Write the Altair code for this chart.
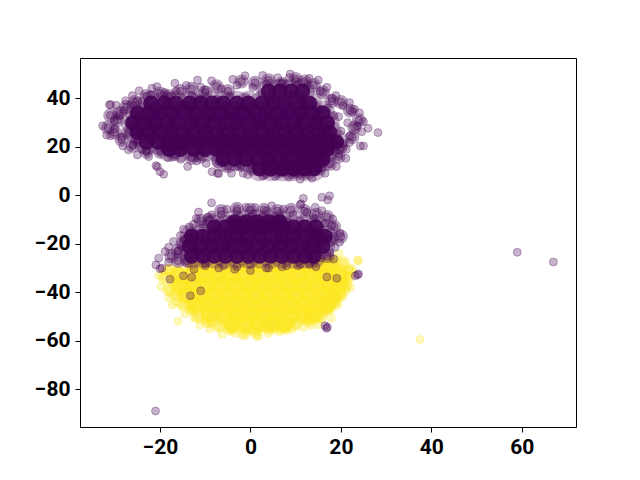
import altair as alt
import pandas as pd

PURPLE = "#440154"
YELLOW = "#fde725"

# Estimated positions of the scattered, individually visible points
purple_x = [8.8, 8.6, -1.2, 2.7, 6.0, -11.7, -8.6, -3.9, -16.7, -14.2, -11.0, -20.7, -21.8, -24.6, -26.1, -27.6, -31.2, -30.9, -29.7,
            -32.7, -31.8, -31.0, -30.1, -28.2, -27.0, -25.0, -22.5, -20.9, -20.6, -20.0, -19.2, -18.2, -15.4, -13.9, -11.9, -9.8, -8.5, -7.3, -7.0,
            -4.2, -1.6, -0.6, 2.7, 5.5, 8.4, 11.0, 13.6, 16.5, 19.0, 21.1, 21.2, 24.3, 25.0, 21.9, 28.2, 26.0, 24.6, 25.0, 24.1, 21.9, 18.9, 16.9, 15.0, 13.0,
            -28.0, -26.5, -25.0, -22.0, -19.0, -16.5, -13.0, -10.0, -6.5, -3.0, 0.5, 3.5, 7.0, 10.0, 12.5, 15.5, 18.0, 20.5, 22.5,
            -29.0, -25.5, -22.5, -18.5, -14.5, -11.5, -7.5, -4.5, -1.0, 2.5, 5.0, 9.0, 11.5, 14.0, 17.0, 19.5, 23.0,
            -30.0, -27.0, -23.5, -20.5, -17.0, -13.5, -9.5, -5.5, -2.0, 1.0, 4.5, 8.0, 12.0, 15.0, 18.5, 21.5, 23.5,
            -28.5, -24.5, -21.5, -17.5, -12.5, -8.5, -4.0, 0.0, 4.0, 7.5, 11.0, 14.5, 17.5, 20.0, 22.0,
            -26.0, -22.0, -18.0, -14.0, -10.0, -6.0, -2.5, 2.0, 6.0, 10.5, 13.5, 16.0, 18.5, 20.5,
            -23.0, -19.0, -15.5, -11.0, -6.5, -3.5, 0.5, 4.5, 8.5, 12.5, 15.5, 17.5, 19.5,
            -3.0, 0.0, 3.5, 7.0, 10.0, 13.0, 16.0, 4.0, 7.5, 11.5, 14.5, 2.0, 6.5, 9.5, 12.5,
            5.0, 7.5, 10.0, 12.5, 15.0, 4.0, 9.0, 13.0, 16.0, -6.5, -2.5, 1.5, 8.0, 11.5, -15.0, -19.0, -24.0,
            # lower group
            -8.6, -11.5, 11.7, 11.0, 11.2, 15.8, 17.5, 17.1, 14.3, 15.8, 7.3, 4.7, -1.0, 1.0, -5.2, -8.6, -12.6, -14.8, -15.5, -17.0, -18.1, -18.9, -20.3,
            -20.9, -20.0, -19.6, -18.1, -17.8, 19.8, 18.2, 19.7, 18.7, 17.6, 18.4, 15.4, 23.7, 23.9, 23.2, 16.9, 19.1, 16.5, 16.8, 17.0, -13.3, -11.0, -14.8, -13.0,
            -12.0, -9.5, -6.5, -3.0, 0.5, 3.5, 6.5, 9.5, 12.5, -13.5, -10.5, -7.0, -4.5, -1.5, 2.0, 5.0, 8.0, 11.0, 14.0, 16.5, 18.0,
            -14.5, -11.0, -8.0, -5.0, -2.0, 1.5, 4.5, 7.5, 10.5, 13.5, 16.0, -16.0, -12.5, -9.0, -5.5, -1.0, 3.0, 6.5, 9.0, 12.0, 15.0,
            -10.0, -6.0, -3.5, 0.0, 3.5, 7.0, 10.5, 13.0, 14.5,
            14.0, 11.0, 8.0, 4.0, 0.0, -3.0, -7.0, -10.0, -12.5,
            # far outliers
            59.0, 67.0, -21.0]
purple_y = [50.1, 48.6, 49.4, 49.5, 48.6, 47.6, 47.3, 47.9, 46.3, 45.4, 44.6, 44.9, 44.2, 43.2, 41.2, 39.1, 37.4, 37.5, 37.2,
            28.7, 24.9, 24.6, 30.7, 20.4, 18.8, 16.7, 16.0, 12.3, 11.8, 9.8, 8.7, 15.6, 14.9, 11.9, 14.2, 13.2, 9.8, 9.1, 9.0,
            9.1, 9.1, 8.5, 8.0, 7.8, 7.5, 6.7, 7.1, 9.1, 11.9, 15.3, 19.0, 20.4, 20.4, 21.8, 25.9, 27.7, 26.3, 30.4, 34.1, 38.3, 41.2, 44.6, 47.6, 48.3,
            35.0, 37.5, 39.0, 41.5, 42.5, 43.0, 41.0, 43.5, 44.0, 45.5, 44.5, 46.0, 46.5, 47.0, 45.0, 43.0, 40.0, 37.0, 34.5,
            33.0, 34.0, 36.5, 38.0, 37.5, 40.0, 39.5, 41.0, 40.5, 42.5, 43.0, 41.5, 39.5, 38.5, 36.0, 32.5, 35.5,
            27.5, 30.0, 31.5, 34.0, 33.0, 35.5, 36.0, 37.0, 36.0, 38.0, 37.5, 38.5, 36.5, 35.5, 33.0, 30.0, 28.5,
            24.0, 26.0, 28.0, 29.5, 31.0, 32.0, 32.5, 33.5, 33.0, 34.0, 32.0, 31.5, 29.0, 26.5, 24.5,
            21.0, 22.5, 25.0, 26.5, 27.5, 28.5, 29.0, 29.5, 29.0, 28.0, 27.5, 25.5, 23.0, 21.5,
            18.5, 19.5, 21.0, 22.5, 23.5, 24.5, 25.0, 25.5, 25.0, 24.0, 22.5, 19.5, 17.0,
            12.0, 14.0, 12.5, 11.5, 11.0, 12.5, 13.0, 16.0, 15.0, 16.0, 16.5, 19.5, 19.0, 20.0, 19.5,
            10.5, 9.5, 9.0, 10.0, 11.0, 21.5, 22.0, 21.5, 15.0, 17.0, 16.0, 21.0, 13.5, 13.0, 18.5, 19.5, 19.0,
            # lower group
            -3.1, -6.9, -1.2, -3.9, -3.5, -0.8, -0.2, -1.9, -4.9, -6.3, -5.7, -4.3, -4.9, -5.0, -5.7, -8.0, -11.9, -14.0, -16.6, -19.0, -21.4, -23.2, -25.9,
            -28.7, -30.3, -30.0, -27.6, -34.6, -15.6, -9.8, -19.3, -21.4, -23.6, -26.3, -25.9, -32.8, -32.4, -33.2, -33.7, -34.2, -53.8, -54.8, -54.4, -41.4, -39.4, -33.2, -33.8,
            -9.5, -9.0, -8.0, -6.5, -7.5, -6.5, -8.5, -8.0, -7.0, -13.0, -12.0, -11.5, -10.0, -11.0, -10.5, -10.0, -11.0, -10.5, -9.5, -11.5, -12.5,
            -18.0, -15.5, -14.5, -16.0, -14.0, -15.0, -13.5, -15.5, -14.5, -15.0, -17.0, -23.0, -22.5, -20.0, -21.5, -19.5, -20.0, -18.5, -19.0, -21.0, -22.0,
            -28.0, -29.0, -30.5, -28.5, -30.0, -29.5, -29.0, -28.5, -29.5,
            -27.5, -28.5, -29.0, -30.0, -31.0, -29.5, -30.0, -29.0, -30.5,
            # far outliers
            -23.5, -27.5, -89.0]

# Estimated points of the crowded rim around each group
rim_purple_x = [-29.0, -27.5, -25.5, -23.0, -20.0, -18.0, -15.5, -13.0, -10.0, -7.5, -5.0, -2.0, 1.0, 4.0, 7.0, 10.0, 12.0, 14.0, 16.0, 18.0, 20.0, 22.0, 24.0, 23.0, 22.5,
                20.0, 19.5, 17.5, 15.0, 12.0, 9.5, 6.5, 3.5, 0.5, -2.0, -5.0, -7.0, -11.0, -13.0, -17.0, -20.0, -23.0, -26.0, -28.5, -30.0, -31.5, -31.0, -29.5, -27.0, -25.0,
                -16.0, -17.5, -16.0, -14.0, -15.0, -13.0, -11.0, -9.0, -6.5, -3.0, 0.0, 3.0, 6.0, 9.0, 12.0, 14.5, 17.0, 18.5, 20.0, 18.0, 17.0]
rim_purple_y = [34.0, 36.5, 38.5, 41.0, 42.0, 41.0, 43.0, 44.0, 42.5, 45.0, 43.0, 47.0, 46.5, 47.5, 46.0, 48.0, 47.0, 45.5, 42.5, 39.0, 38.5, 35.0, 31.0, 28.0, 24.0,
                20.0, 16.0, 13.0, 11.0, 9.5, 9.5, 10.0, 10.0, 11.0, 12.5, 12.0, 14.0, 16.0, 15.5, 17.0, 18.0, 18.0, 20.5, 23.0, 26.0, 28.0, 33.0, 31.0, 26.0, 23.0,
                -23.0, -25.0, -27.0, -27.0, -20.0, -16.0, -10.5, -10.0, -6.5, -5.5, -6.0, -6.0, -6.5, -6.0, -6.5, -8.0, -9.0, -13.0, -17.0, -18.0, -25.0]

yellow_x = [-20.3, -19.8, -18.1, -17.3, -14.5, -11.2, -9.0, -6.3, -3.4, 1.4, 1.8, 6.4, 9.3, 11.7, 13.3, 15.0, 17.9, 19.4, 21.2, 22.2, 20.1, 23.9, 23.7, 19.6,
            -16.0, -12.5, -8.5, -4.0, 0.5, 5.0, 9.0, 13.0, 16.5, 21.5, 18.5, 20.5, 22.0, 17.0, -19.0, -17.5, -15.5, -16.5, 4.0, -1.0, 8.0, 11.5, 3.0, -6.5, -13.0,
            37.5]
yellow_y = [-33.0, -37.6, -42.4, -45.2, -48.9, -53.4, -55.0, -57.3, -56.8, -58.2, -58.0, -56.2, -55.2, -54.4, -53.7, -53.4, -50.7, -45.2, -39.4, -38.0, -30.3, -27.0, -26.8, -24.1,
            -52.0, -50.5, -53.0, -54.5, -55.5, -54.0, -52.5, -50.0, -47.5, -33.5, -42.0, -36.0, -31.0, -29.0, -31.0, -36.0, -40.0, -44.0, -57.0, -56.0, -55.5, -51.5, -53.0, -52.0, -46.5,
            -59.5]
rim_yellow_x = [-18.0, -19.0, -18.0, -16.5, -15.0, -13.0, -11.5, -9.5, -7.0, -4.5, -1.5, 1.0, 4.0, 7.0, 10.0, 13.0, 15.5, 17.0, 18.5, 20.0, 21.0, 21.5, 22.0, 20.5, 18.5]
rim_yellow_y = [-31.0, -34.0, -39.0, -41.0, -45.0, -47.0, -50.0, -52.0, -54.0, -55.0, -57.0, -56.0, -54.5, -54.0, -53.0, -51.5, -50.0, -47.0, -44.0, -41.0, -37.0, -34.0, -31.0, -28.0, -27.0]

# Estimated centres of the areas where points pile up into solid colour
dense_purple_x = [4.0, 6.5, 9.0, 11.5,
                  -22.0, -19.0, -16.5, -13.5, -11.0, -8.5, -6.0, -3.0, -0.5, 2.5, 5.0, 7.5, 10.5, 13.0,
                  -25.0, -22.5, -20.0, -17.0, -14.5, -12.0, -9.0, -6.5, -4.0, -1.5, 1.0, 3.5, 6.0, 8.5, 11.0, 13.5, 16.0,
                  -26.0, -23.5, -21.0, -18.5, -16.0, -13.0, -10.5, -8.0, -5.5, -3.0, -0.5, 2.0, 4.5, 7.0, 9.5, 12.0, 14.5, 17.0,
                  -25.0, -22.5, -20.0, -17.5, -15.0, -12.5, -10.0, -7.5, -5.0, -2.5, 0.0, 2.5, 5.0, 7.5, 10.0, 12.5, 15.0, 17.5,
                  -23.0, -20.5, -18.0, -15.5, -13.0, -10.5, -8.0, -5.5, -3.0, -0.5, 2.0, 4.5, 7.0, 9.5, 12.0, 14.5, 17.0, 19.0,
                  -18.0, -15.5, -12.5, -10.0, -7.5, -5.0, -2.5, 0.0, 2.5, 5.0, 7.5, 10.0, 12.5, 15.0, 17.0,
                  -6.0, -3.5, -1.0, 1.5, 4.0, 6.5, 9.0, 11.5, 14.0, 16.0,
                  2.0, 4.5, 7.0, 9.5, 12.0, 14.0,
                  # lower group
                  -3.5, -1.0, 1.5, 4.0, 6.5,
                  -8.0, -5.5, -3.0, -0.5, 2.0, 4.5, 7.0, 9.5, 12.0, 14.5,
                  -13.0, -10.5, -8.0, -5.5, -3.0, -0.5, 2.0, 4.5, 7.0, 9.5, 12.0, 14.5, 16.5,
                  -13.5, -11.0, -8.5, -6.0, -3.5, -1.0, 1.5, 4.0, 6.5, 9.0, 11.5, 14.0, 16.0,
                  -13.0, -10.5, -8.0, -5.5, -3.0, -0.5, 2.0, 4.5, 7.0, 9.5, 12.0, 14.0]
dense_purple_y = [43, 43, 43, 43,
                  38, 38, 38, 38, 38, 38, 38, 38, 38, 38, 38, 38, 38, 38,
                  34, 34, 34, 34, 34, 34, 34, 34, 34, 34, 34, 34, 34, 34, 34, 34, 34,
                  30, 30, 30, 30, 30, 30, 30, 30, 30, 30, 30, 30, 30, 30, 30, 30, 30, 30,
                  26, 26, 26, 26, 26, 26, 26, 26, 26, 26, 26, 26, 26, 26, 26, 26, 26, 26,
                  22, 22, 22, 22, 22, 22, 22, 22, 22, 22, 22, 22, 22, 22, 22, 22, 22, 22,
                  19, 19, 19, 19, 19, 19, 19, 19, 19, 19, 19, 19, 19, 19, 19,
                  15, 15, 15, 15, 15, 15, 15, 15, 15, 15,
                  11, 11, 11, 11, 11, 11,
                  # lower group
                  -11, -11, -11, -11, -11,
                  -13, -13, -13, -13, -13, -13, -13, -13, -13, -13,
                  -17, -17, -17, -17, -17, -17, -17, -17, -17, -17, -17, -17, -17,
                  -21, -21, -21, -21, -21, -21, -21, -21, -21, -21, -21, -21, -21,
                  -25, -25, -25, -25, -25, -25, -25, -25, -25, -25, -25, -25]

dense_yellow_x = [-12.0, -9.0, -6.0, -3.0, 0.0, 3.0, 6.0, 9.0, 12.0, 15.0, 17.5,
                  -16.0, -13.0, -10.0, -7.0, -4.0, -1.0, 2.0, 5.0, 8.0, 11.0, 14.0, 17.0, 19.5,
                  -15.5, -12.5, -9.5, -6.5, -3.5, -0.5, 2.5, 5.5, 8.5, 11.5, 14.5, 17.5, 19.5,
                  -14.0, -11.0, -8.0, -5.0, -2.0, 1.0, 4.0, 7.0, 10.0, 13.0, 16.0, 18.5,
                  -12.0, -9.0, -6.0, -3.0, 0.0, 3.0, 6.0, 9.0, 12.0, 15.0, 17.0,
                  -9.0, -6.0, -3.0, 0.0, 3.0, 6.0, 9.0, 12.0, 14.0,
                  -4.0, -1.0, 2.0, 5.0, 7.5]
dense_yellow_y = [-29, -29, -29, -29, -29, -29, -29, -29, -29, -29, -29,
                  -33, -33, -33, -33, -33, -33, -33, -33, -33, -33, -33, -33, -33,
                  -37, -37, -37, -37, -37, -37, -37, -37, -37, -37, -37, -37, -37,
                  -41, -41, -41, -41, -41, -41, -41, -41, -41, -41, -41, -41,
                  -45, -45, -45, -45, -45, -45, -45, -45, -45, -45, -45,
                  -49, -49, -49, -49, -49, -49, -49, -49, -49,
                  -53, -53, -53, -53, -53]

x_ticks = [-20, 0, 20, 40, 60]
y_ticks = [-80, -60, -40, -20, 0, 20, 40]
minus_expr = "replace(datum.label, /[-\u2212]/, '\u2212')"

x_scale = alt.Scale(domain=[-37.7, 72.0], nice=False, zero=False)
y_scale = alt.Scale(domain=[-95.6, 56.7], nice=False, zero=False)
x_enc = alt.X("x:Q", scale=x_scale, title=None,
              axis=alt.Axis(values=x_ticks, grid=False, domain=False, tickColor="black", tickSize=5,
                            labelFont="Roboto", labelFontWeight="bold", labelFontSize=21, labelColor="black",
                            labelPadding=4, labelFlush=False, labelExpr=minus_expr))
y_enc = alt.Y("y:Q", scale=y_scale, title=None,
              axis=alt.Axis(values=y_ticks, grid=False, domain=False, tickColor="black", tickSize=5,
                            labelFont="Roboto", labelFontWeight="bold", labelFontSize=21, labelColor="black",
                            labelPadding=5, labelExpr=minus_expr))


def dense(xs, ys, color, opacity, size):
    return alt.Chart(pd.DataFrame({"x": xs, "y": ys})).mark_circle(
        size=size, color=color, opacity=opacity
    ).encode(x=x_enc, y=y_enc)


def points(xs, ys, color):
    return alt.Chart(pd.DataFrame({"x": xs, "y": ys})).mark_point(
        filled=True, shape="circle", size=64, fill=color, stroke=color, strokeWidth=1,
        fillOpacity=0.3, strokeOpacity=0.3, opacity=1
    ).encode(x=x_enc, y=y_enc)


chart = alt.layer(
    dense(rim_yellow_x, rim_yellow_y, YELLOW, 0.45, 190),
    dense(dense_yellow_x, dense_yellow_y, YELLOW, 0.18, 560),
    dense(dense_yellow_x, dense_yellow_y, YELLOW, 0.85, 320),
    points(yellow_x, yellow_y, YELLOW),
    points(rim_yellow_x, rim_yellow_y, YELLOW),
    dense(rim_purple_x, rim_purple_y, PURPLE, 0.38, 200),
    dense(dense_purple_x, dense_purple_y, PURPLE, 0.28, 620),
    dense(dense_purple_x, dense_purple_y, PURPLE, 0.9, 240),
    points(purple_x, purple_y, PURPLE),
    points(rim_purple_x, rim_purple_y, PURPLE),
).properties(
    width=496, height=369,
    autosize=alt.AutoSizeParams(type="none"),
    padding={"left": 72, "top": 50, "right": 56, "bottom": 45},
).configure_view(stroke="black", strokeWidth=1)

chart.save("out.html", embed_options={"renderer": "svg", "actions": False})
